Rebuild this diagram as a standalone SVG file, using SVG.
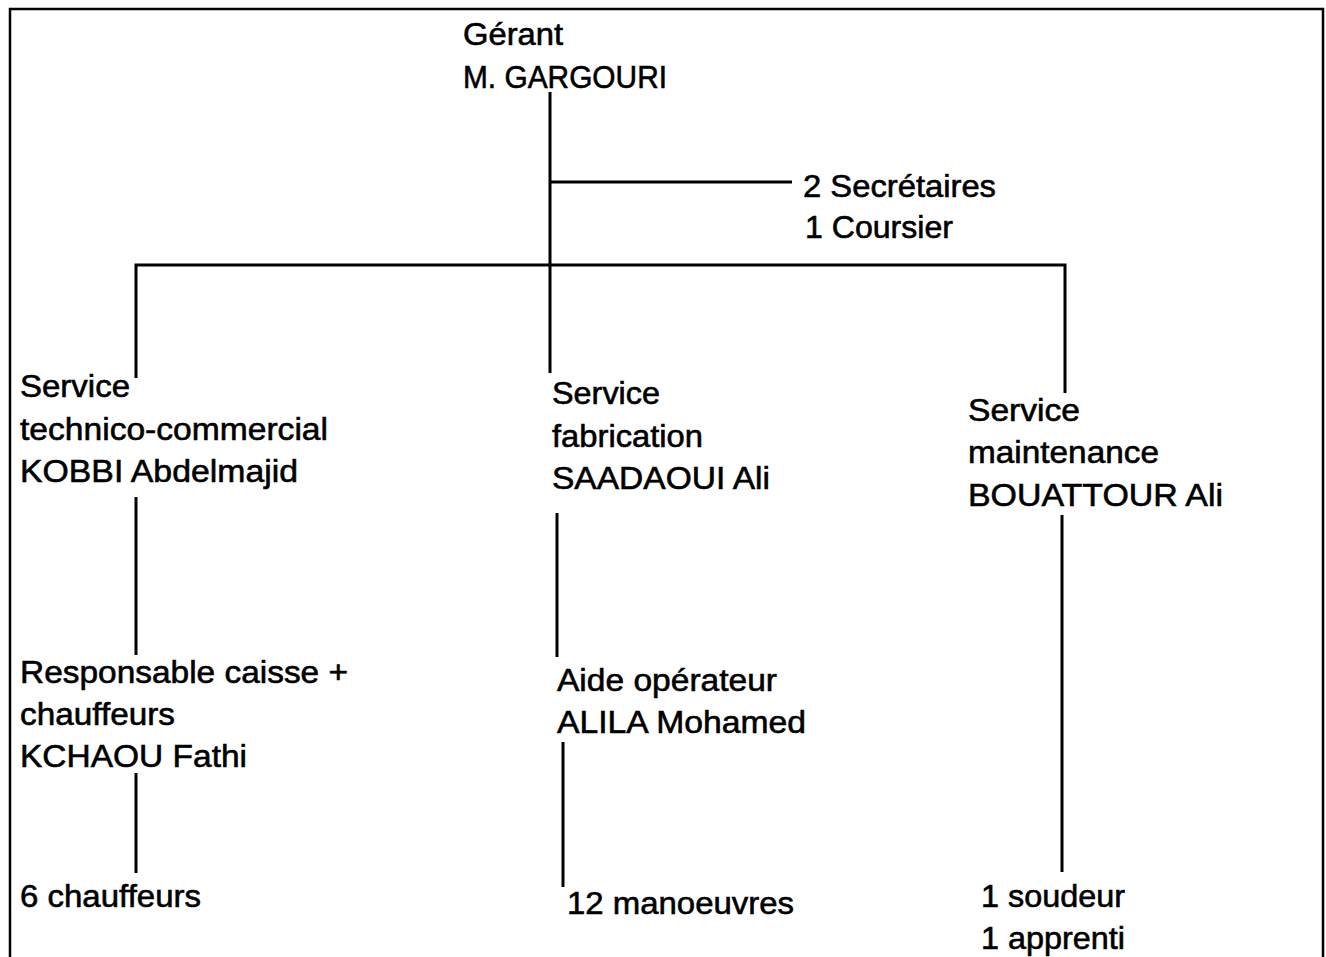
<svg xmlns="http://www.w3.org/2000/svg" width="1326" height="957" viewBox="0 0 1326 957">
<style>
text{font-family:"Liberation Sans",Arial,sans-serif;font-size:32px;fill:#000;stroke:#000;stroke-width:0.6}
.ln{stroke:#000;stroke-width:3;fill:none}
.bd{stroke:#000;stroke-width:2.5;fill:none}
</style>
<rect x="0" y="0" width="1326" height="957" fill="#fff"/>
<path class="bd" d="M10,960 V9 H1323 V960"/>
<g id="connectors">
<path class="ln" d="M550,92 V373"/>
<path class="ln" d="M550,182 H792"/>
<path class="ln" d="M136,378 V265 H1065 V393"/>
<path class="ln" d="M136,497 V655"/>
<path class="ln" d="M136,773 V873"/>
<path class="ln" d="M557,513 V657"/>
<path class="ln" d="M563,742 V887"/>
<path class="ln" d="M1062,515 V872"/>
</g>
<g id="gerant">
<text x="463" y="45" textLength="100" lengthAdjust="spacingAndGlyphs">Gérant</text>
<text x="463" y="88" textLength="204" lengthAdjust="spacingAndGlyphs">M. GARGOURI</text>
</g>
<g id="secretariat">
<text x="803" y="197" textLength="193" lengthAdjust="spacingAndGlyphs">2 Secrétaires</text>
<text x="805" y="238" textLength="148" lengthAdjust="spacingAndGlyphs">1 Coursier</text>
</g>
<g id="service-tc">
<text x="20" y="397" textLength="110" lengthAdjust="spacingAndGlyphs">Service</text>
<text x="20" y="440" textLength="308" lengthAdjust="spacingAndGlyphs">technico-commercial</text>
<text x="20" y="482" textLength="278" lengthAdjust="spacingAndGlyphs">KOBBI Abdelmajid</text>
</g>
<g id="service-fab">
<text x="552" y="404" textLength="108" lengthAdjust="spacingAndGlyphs">Service</text>
<text x="552" y="447" textLength="151" lengthAdjust="spacingAndGlyphs">fabrication</text>
<text x="552" y="489" textLength="218" lengthAdjust="spacingAndGlyphs">SAADAOUI Ali</text>
</g>
<g id="service-maint">
<text x="968" y="421" textLength="112" lengthAdjust="spacingAndGlyphs">Service</text>
<text x="968" y="463" textLength="191" lengthAdjust="spacingAndGlyphs">maintenance</text>
<text x="968" y="506" textLength="255" lengthAdjust="spacingAndGlyphs">BOUATTOUR Ali</text>
</g>
<g id="caisse">
<text x="20" y="683" textLength="328" lengthAdjust="spacingAndGlyphs">Responsable caisse +</text>
<text x="20" y="725" textLength="155" lengthAdjust="spacingAndGlyphs">chauffeurs</text>
<text x="20" y="767" textLength="227" lengthAdjust="spacingAndGlyphs">KCHAOU Fathi</text>
</g>
<g id="aide">
<text x="557" y="691" textLength="220" lengthAdjust="spacingAndGlyphs">Aide opérateur</text>
<text x="557" y="733" textLength="249" lengthAdjust="spacingAndGlyphs">ALILA Mohamed</text>
</g>
<g id="chauffeurs">
<text x="20" y="907" textLength="181" lengthAdjust="spacingAndGlyphs">6 chauffeurs</text>
</g>
<g id="manoeuvres">
<text x="567" y="914" textLength="227" lengthAdjust="spacingAndGlyphs">12 manoeuvres</text>
</g>
<g id="soudeur">
<text x="981" y="907" textLength="144" lengthAdjust="spacingAndGlyphs">1 soudeur</text>
<text x="981" y="949" textLength="144" lengthAdjust="spacingAndGlyphs">1 apprenti</text>
</g>
</svg>
